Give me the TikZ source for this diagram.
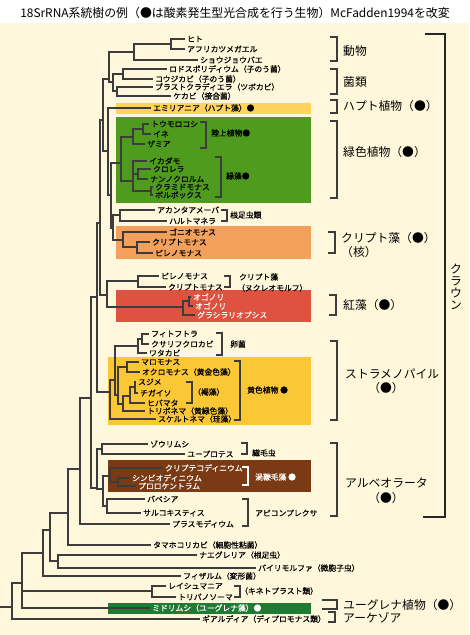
\documentclass[tikz,border=0pt]{standalone}
\usepackage{fontspec}
\setmainfont{Noto Sans CJK JP}
\newfontfamily\leafjp{Noto Sans CJK JP}[FakeBold=0.7]
\usepackage{tikz}
\usetikzlibrary{positioning}
\definecolor{cream}{RGB}{255,247,220}
\definecolor{treegray}{RGB}{60,60,60}
\definecolor{haptoY}{RGB}{255,211,92}
\definecolor{greenP}{RGB}{78,155,30}
\definecolor{cryptoO}{RGB}{242,160,92}
\definecolor{redA}{RGB}{223,82,64}
\definecolor{stramY}{RGB}{252,199,53}
\definecolor{dinoB}{RGB}{122,59,20}
\definecolor{euglG}{RGB}{31,122,52}
\newcommand{\leaffont}{\leafjp\fontsize{7.8}{9}\selectfont}
\newcommand{\grpfont}{\fontsize{11.8}{13}\selectfont}

\begin{document}
\begin{tikzpicture}[x=1pt, y=-1pt,
    branch/.style={draw=treegray, line width=1.3pt},
    leaf/.style={anchor=west, inner sep=2pt, font=\leaffont},
    grp/.style={draw=treegray, line width=1.6pt},
    glabel/.style={anchor=west, inner sep=0pt, font=\grpfont}]
  % background and title
  \useasboundingbox (0,0) rectangle (469,635);
  \fill[white] (0,0) rectangle (469,23);
  \fill[cream] (0,23) rectangle (469,635);
  \node[font=\fontsize{11.9}{13}\selectfont] (title) at (235,13)
    {18SrRNA系統樹の例（●は酸素発生型光合成を行う生物）McFadden1994を改変};

  % coloured bands
  \fill[haptoY] (116,103) rectangle (311,114);
  \fill[greenP] (116,117) rectangle (311,203);
  \fill[cryptoO] (116,226) rectangle (311,259);
  \fill[redA] (116,290) rectangle (311,322);
  \fill[stramY] (108,357) rectangle (311,425);
  \fill[dinoB] (108,460) rectangle (311,492);
  \fill[euglG] (108,603) rectangle (311,614);

  % internal nodes
  \foreach \n/\x/\y in {ROOT/12/607, N22/22/583, KIN/152/591, N43/43/553,
      N50/50/530, NB/58/561, N68/68/513, N80/80/469, S91/91/398, AL/97/488,
      CIL/102/449, DA/103/489, DINO/110/476, DN2/118/482, AP1/107/506,
      S97/97/297, STR/110/392, S115/115/380, OO/138/346, PK/142/339,
      CH2/118/395, CH1/127/367, BT/123/404, BRN/130/396, BR1/135/387,
      CR2/100/223, NR/107/295, NM/138/281, RED/183/307, OG/189/301,
      CR1/103/120, AF/109/79, AN/134/52, HX/171/44, FU/113/82, F1/123/74,
      F2/117/91, H/108/151, P1/111/195, GP/121/163, LP/133/137, TI/143/129,
      GA/133/181, CN/138/174, CV/151/191, Q/113/228, RH/120/215,
      CRN/123/240, CP/137/247}
    \coordinate (\n) at (\x,\y);
  \coordinate (stub) at (0,607);

  % leaves
  \foreach \n/\x/\y/\t in {hito/185/39/ヒト, frog/185/49/アフリカツメガエル,
      fly/198/60/ショウジョウバエ, rhodo/167/69/ロドスポリディウム（子のう菌）,
      asper/153/79/コウジカビ（子のう菌）, blasto/153/87/ブラストクラディエラ（ツボカビ）,
      muco/171/96/ケカビ（接合菌）, emil/151/108/エミリアニア（ハプト藻）●,
      maize/149/124/トウモロコシ, rice/151/134/イネ, zamia/145/144/ザミア,
      scen/147/161/イカダモ, chlo/151/169/クロレラ, nanno/148/179/ナンノクロルム,
      chlamy/153/187/クラミドモナス, volvox/153/195/ボルボックス,
      acan/155/210/アカンタアメーバ, hart/167/221/ハルトマネラ,
      gonio/167/232/ゴニオモナス, cryA/150/242/クリプトモナス, pyrA/153/253/ピレノモナス,
      pyrB/159/276/ピレノモナス, cryB/166/287/クリプトモナス,
      phyto/149/334/フィトフトラ, sapro/149/344/クサリフクロカビ, achl/147/353/ワタカビ,
      mallo/139/362/マロモナス, ochro/140/372/オクロモナス（黄金色藻）,
      lamin/136/382/スジメ, costa/138/393/チガイソ, fucus/145/403/ヒバマタ,
      tribo/145/411/トリボネマ（黄緑色藻）, skele/156/419/スケルトネマ（珪藻）,
      param/148/444/ゾウリムシ, eupl/185/454/ユープロテス,
      babe/145/499/バベシア, sarco/141/513/サルコキスティス, plasmo/170/524/プラスモディウム,
      dicty/151/545/タマホコリカビ（細胞性粘菌）, naeg/197/555/ナエグレリア（根足虫）,
      vair/256/568/バイリモルファ（微胞子虫）, phys/181/576/フィザルム（変形菌）,
      leish/166/586/レイシュマニア, tryp/176/597/トリパノソーマ,
      giar/200/619/ギアルディア（ディプロモナス類）}
    \node[leaf] (\n) at (\x,\y) {\t};
  \foreach \n/\x/\y/\t in {ogoA/191/297/オゴノリ, ogoB/193/306/オゴノリ,
      graci/195/315/グラシラリオプシス, crypth/163/468/クリプテコディニウム,
      symb/130/478/シンビオディニウム, proro/136/486/プロロケントラム,
      eugl/150/608/ミドリムシ（ユーグレナ藻）●}
    \node[leaf, text=white] (\n) at (\x,\y) {\t};

  % branches
  \draw[branch] (stub) -- (ROOT);
  \foreach \p/\c in {ROOT/N22, ROOT/giar, N22/N43, N22/KIN, N22/eugl,
      KIN/leish, KIN/tryp, N43/N50, N43/phys, N50/N68, N50/NB, NB/naeg,
      NB/vair, N68/N80, N68/dicty, N80/S91, N80/plasmo, S91/S97, S91/AL,
      AL/CIL, AL/DA, CIL/param, CIL/eupl, DA/DINO, DA/AP1, DINO/crypth,
      DINO/DN2, DN2/symb, DN2/proro, AP1/babe, AP1/sarco, S97/CR2, S97/STR,
      STR/S115, STR/skele, S115/OO, S115/CH2, OO/PK, OO/achl, PK/phyto,
      PK/sapro, CH2/CH1, CH2/BT, CH1/mallo, CH1/ochro, BT/BRN, BT/tribo,
      BRN/BR1, BRN/fucus, BR1/lamin, BR1/costa, CR2/CR1, CR2/NR, NR/NM,
      NR/RED, NM/pyrB, NM/cryB, RED/OG, RED/graci, OG/ogoA, OG/ogoB,
      CR1/AF, CR1/H, AF/AN, AF/FU, AN/HX, AN/fly, HX/hito, HX/frog, FU/F1,
      FU/F2, F1/rhodo, F1/asper, F2/blasto, F2/muco, H/emil, H/P1, P1/GP,
      P1/Q, GP/LP, GP/GA, LP/TI, LP/zamia, TI/maize, TI/rice, GA/scen,
      GA/CN, GA/CV, CN/chlo, CN/nanno, CV/chlamy, CV/volvox, Q/RH, Q/CRN,
      RH/acan, RH/hart, CRN/gonio, CRN/CP, CP/cryA, CP/pyrA}
    \draw[branch] (\p) |- (\c);

  % small brackets inside the tree
  \foreach \x/\ya/\yb in {206/122/148, 221/157/197, 227/210/221, 230/276/287,
      222/333/355, 192/382/403, 240/361/420, 247/443/454, 248/499/526, 240/586/597}
    \draw[grp, line width=1.3pt] (\x-6,\ya) -- (\x,\ya) -- (\x,\yb) -- (\x-6,\yb);
  \draw[grp, line width=1.3pt, draw=white] (242,467) -- (248,467) -- (248,485) -- (242,485);
  \node[leaf] (landlbl) at (209,133) {陸上植物●};
  \node[leaf] (algalbl) at (224,176) {緑藻●};
  \node[leaf] (rhizlbl) at (228,215) {根足虫類};
  \node[leaf] (nmlbl) at (237,277) {クリプト藻};
  \node[leaf] (nmlblb) at (235,288) {（ヌクレオモルフ）};
  \node[leaf] (oolbl) at (228,344) {卵菌};
  \node[leaf] (brlbl) at (191,392) {（褐藻）};
  \node[leaf] (yellbl) at (245,390) {黄色植物 ●};
  \node[leaf] (cillbl) at (250,453) {繊毛虫};
  \node[leaf, text=white] (dinlbl) at (253,477) {渦鞭毛藻 ●};
  \node[leaf] (apilbl) at (253,513) {アピコンプレクサ};
  \node[leaf] (kinlbl) at (238,591) {（キネトプラスト類）};

  % group brackets on the right
  \foreach \x/\ya/\yb in {337/37/61, 337/69/94, 337/100/113, 337/121/198,
      335/232/253, 336/295/315, 337/341/420, 337/443/516, 335/612/622}
    \draw[grp] (\x-7,\ya) -- (\x,\ya) -- (\x,\yb) -- (\x-7,\yb);
  \draw[grp] (322,600) -- (337,600) -- (337,609) -- (322,609);
  \node[glabel] (animal) at (343,51) {動物};
  \node[glabel] (fungi) at (343,82) {菌類};
  \node[glabel] (hapto) at (343,106) {ハプト植物（●）};
  \node[glabel] (green) at (343,152) {緑色植物（●）};
  \node[glabel] (crypto) at (341,238) {クリプト藻（●）};
  \node[glabel] (cryptob) at (341,252) {（核）};
  \node[glabel] (red) at (343,305) {紅藻（●）};
  \node[glabel] (stram) at (345,374) {ストラメノパイル};
  \node[font=\grpfont, inner sep=0pt] (stramb) at (386,388) {（●）};
  \node[glabel] (alveo) at (345,483) {アルベオラータ};
  \node[font=\grpfont, inner sep=0pt] (alveob) at (386,498) {（●）};
  \node[glabel] (eugrp) at (343,605) {ユーグレナ植物（●）};
  \node[glabel] (archz) at (343,618) {アーケゾア};

  % crown bracket
  \draw[draw=black!85, line width=2.4pt] (425,34) -- (445,34) -- (445,517) -- (423,517);
  \node[font=\grpfont, align=center, inner sep=0pt] (crown) at (456,287)
    {ク\\[-1pt]ラ\\[-1pt]ウ\\[-1pt]ン};
\end{tikzpicture}
\end{document}
